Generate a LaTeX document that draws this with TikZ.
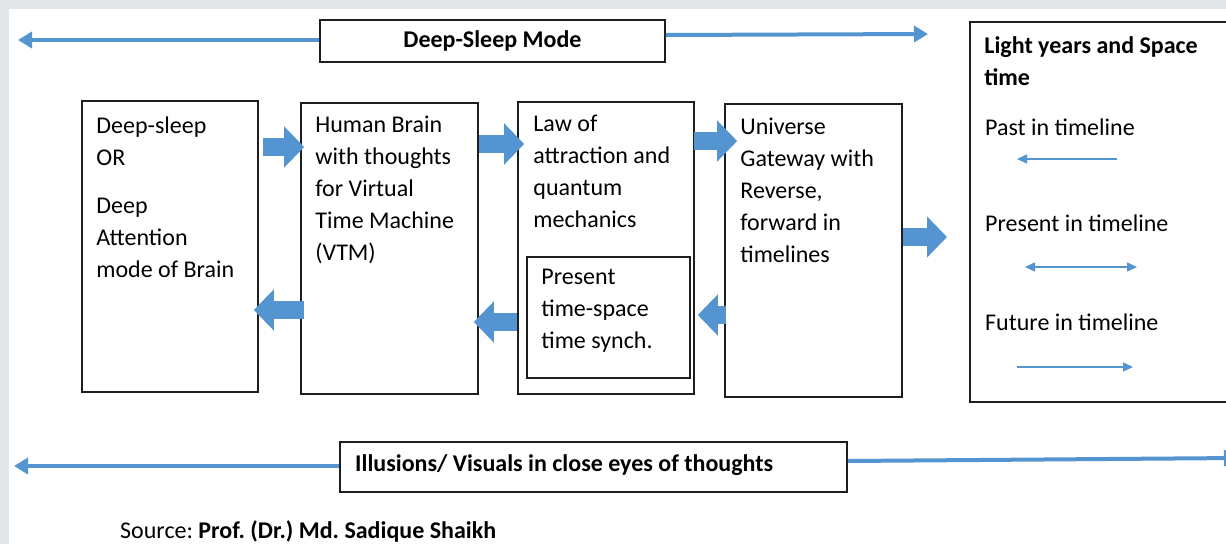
\documentclass[tikz,border=0pt]{standalone}
\usepackage{fontspec}
\setmainfont{Carlito}
\frenchspacing
\usetikzlibrary{arrows.meta,calc}
\definecolor{bluearr}{RGB}{84,148,208}
\definecolor{framegray}{RGB}{226,230,233}
\definecolor{boxline}{RGB}{30,30,30}
\begin{document}
\begin{tikzpicture}[x=1pt,y=-1pt,
  box/.style={draw=boxline, line width=1.6pt, fill=white, inner sep=0pt},
  txt/.style={anchor=north west, align=left, inner sep=0pt, font=\fontsize{24}{32}\selectfont},
  btxt/.style={inner sep=0pt, font=\fontsize{24}{32}\selectfont\bfseries},
  blockarr/.style={draw=bluearr, line width=18pt, -{Triangle[length=20pt,width=40pt]}},
  longarr/.style={draw=bluearr, line width=4pt, -{Triangle[length=14pt,width=16pt]}},
  thinarr/.style={draw=bluearr, line width=1.5pt, -{Triangle[length=10pt,width=9pt]}},
  thinboth/.style={draw=bluearr, line width=1.5pt, {Triangle[length=10pt,width=9pt]}-{Triangle[length=10pt,width=9pt]}}
]
\clip (0,0) rectangle (1226,544);
\fill[white] (0,0) rectangle (1226,544);
\fill[framegray] (0,0) rectangle (1226,9);
\fill[framegray] (0,0) rectangle (9,544);

% boxes
\node[box, minimum width=345pt, minimum height=42pt] (dsm) at (492.5,41) {};
\node[btxt] (dsmt) at (dsm.center) {Deep-Sleep Mode};
\node[box, minimum width=176pt, minimum height=291pt] (b1) at (170,246.5) {};
\node[box, minimum width=177pt, minimum height=291pt] (b2) at (389.5,248.5) {};
\node[box, minimum width=176pt, minimum height=292pt] (b3) at (606,248) {};
\node[box, minimum width=163pt, minimum height=121pt] (bin) at (608.5,317.5) {};
\node[box, minimum width=177pt, minimum height=293pt] (b4) at (813.5,250.5) {};
\node[box, minimum width=265pt, minimum height=380pt] (rb) at (1102.5,212) {};
\node[box, minimum width=507pt, minimum height=50pt] (ill) at (593.5,467) {};

% texts
\node[txt] (t1) at ($(b1.north west)+(15,16)$) {Deep-sleep\\OR\\[16pt]Deep\\Attention\\mode of Brain};
\node[txt] (t2) at ($(b2.north west)+(15,14)$) {Human Brain\\with thoughts\\for Virtual\\Time Machine\\(VTM)};
\node[txt] (t3) at ($(b3.north west)+(16,14)$) {Law of\\attraction and\\quantum\\mechanics};
\node[txt] (tin) at ($(bin.north west)+(15,13)$) {Present\\time-space\\time synch.};
\node[txt] (t4) at ($(b4.north west)+(16,15)$) {Universe\\Gateway with\\Reverse,\\forward in\\timelines};
\node[txt, font=\fontsize{24}{32}\selectfont\bfseries] (tr1) at ($(rb.north west)+(15,15)$) {Light years and Space\\time};
\node[txt] (past) at (985,119) {Past in timeline};
\node[txt] (pres) at (985,215) {Present in timeline};
\node[txt] (fut) at (985,314) {Future in timeline};
\node[btxt, anchor=west] (illt) at (355,465) {Illusions/ Visuals in close eyes of thoughts};
\node[anchor=west, inner sep=0pt, font=\fontsize{24}{28}\selectfont] (src) at (120,531) {Source: \textbf{Prof. (Dr.) Md. Sadique Shaikh}};

% long arrows
\coordinate (tl) at (18,40);
\coordinate (tr) at (928,34);
\coordinate (bl) at (14,466);
\coordinate (br) at (1238,458);
\draw[longarr] ([yshift=1pt]dsm.west) -- (tl);
\draw[longarr] ([yshift=6pt]dsm.east) -- (tr);
\draw[longarr] ([yshift=1pt]ill.west) -- (bl);
\draw[longarr] ([yshift=6pt]ill.east) -- (br);

% block arrows
\draw[blockarr] ($(b1.east|-0,147)+(4,0)$) -- ($(b2.west|-0,147)+(4,0)$);
\draw[blockarr] ($(b2.west|-0,310)+(4,0)$) -- ($(b1.east|-0,310)+(-5,0)$);
\draw[blockarr] ($(b2.east|-0,144)$) -- ($(b3.west|-0,144)+(7,0)$);
\draw[blockarr] ($(b3.west|-0,322)$) -- ($(b2.east|-0,322)+(-5,0)$);
\draw[blockarr] ($(b3.east|-0,141)+(-1,0)$) -- ($(b4.west|-0,141)+(13,0)$);
\draw[blockarr] ($(b4.west|-0,315)+(2,0)$) -- ($(b3.east|-0,315)+(3,0)$);
\coordinate (a4r) at (947,237);
\draw[blockarr] (b4.east|-a4r) -- (a4r);

% timeline arrows
\coordinate (p1) at (1117,159); \coordinate (p2) at (1017,159);
\coordinate (q1) at (1025,267); \coordinate (q2) at (1137,267);
\coordinate (f1) at (1017,367); \coordinate (f2) at (1133,367);
\draw[thinarr] (p1) -- (p2);
\draw[thinboth] (q1) -- (q2);
\draw[thinarr] (f1) -- (f2);
\end{tikzpicture}
\end{document}
